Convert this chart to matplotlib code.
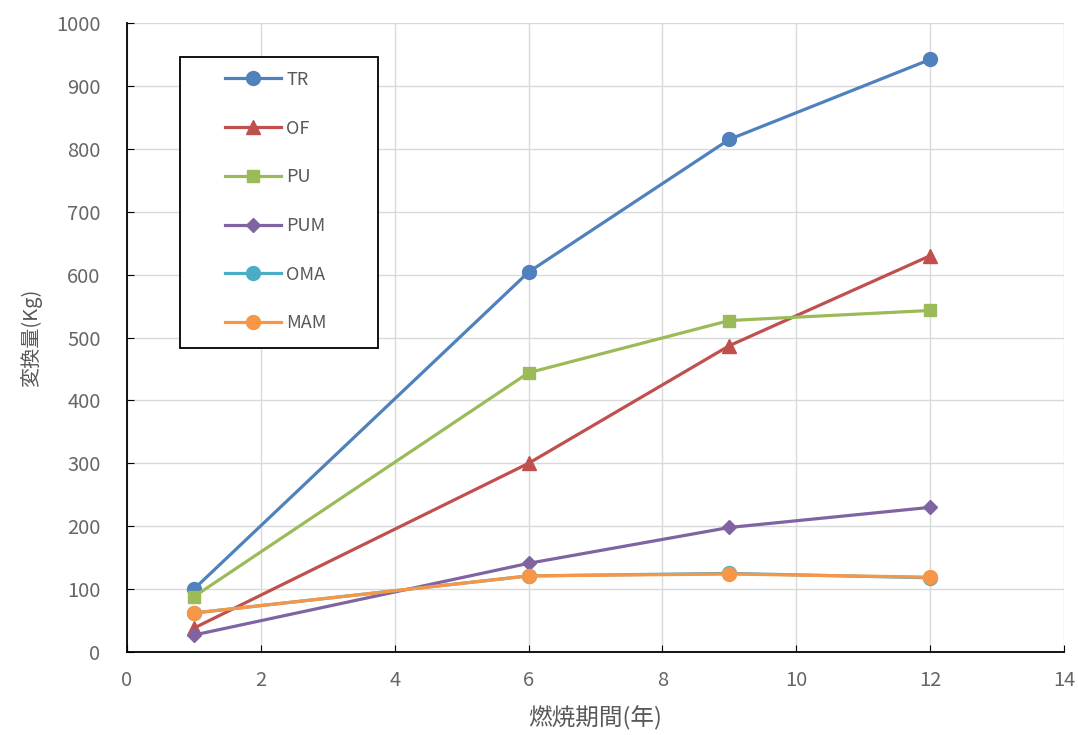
import matplotlib
matplotlib.use('Agg')
import matplotlib.pyplot as plt
from matplotlib.patches import Rectangle

plt.rcParams['font.family'] = ['Noto Sans CJK JP', 'DejaVu Sans']

years = [1, 6, 9, 12]
tr = [100, 604, 815, 942]
of = [38, 300, 487, 630]
pu = [88, 444, 527, 543]
pum = [27, 141, 198, 230]
oma = [62, 121, 125, 118]
mam = [62, 121, 124, 119]

series = [
    ('TR', tr, '#4F81BD', 'o', 10),
    ('OF', of, '#C0504D', '^', 10),
    ('PU', pu, '#9BBB59', 's', 9),
    ('PUM', pum, '#8064A2', 'D', 7),
    ('OMA', oma, '#4BACC6', 'o', 10),
    ('MAM', mam, '#F79646', 'o', 10),
]

fig = plt.figure(figsize=(10.78, 7.35), dpi=100)
ax = fig.add_axes([0.1178, 0.1129, 0.8692, 0.8558])

for name, vals, col, mk, ms in series:
    ax.plot(years, vals, color=col, marker=mk, markersize=ms, linewidth=2.3, label=name)

ax.set_xlim(0, 14)
ax.set_ylim(0, 1000)
ax.set_xticks(range(0, 15, 2))
ax.set_yticks(range(0, 1001, 100))
ax.grid(True, color='#D9D9D9', linewidth=1)
ax.set_axisbelow(True)
for s in ['top', 'right']:
    ax.spines[s].set_visible(False)
for s in ['left', 'bottom']:
    ax.spines[s].set_color('black')
    ax.spines[s].set_linewidth(1.3)
ax.tick_params(direction='in', length=5, labelsize=14.5, labelcolor='#666666')
ax.tick_params(axis='x', pad=13)
ax.tick_params(axis='y', pad=19)

ax.set_xlabel('燃焼期間(年)', fontsize=17, color='#595959', labelpad=11)
ax.set_ylabel('変換量(Kg)', fontsize=14.5, color='#595959', labelpad=10)

# legend frame drawn separately so its size matches the wide box
ax.add_patch(Rectangle((0.0566, 0.483), 0.2114, 0.463, transform=ax.transAxes,
                       facecolor='white', edgecolor='black', linewidth=1.3, zorder=5))
leg = ax.legend(loc='upper left', bbox_to_anchor=(0.1046, 0.924), borderaxespad=0,
                frameon=False, handlelength=3.1, labelspacing=1.7, fontsize=13,
                borderpad=0, handletextpad=0.3)
leg.set_zorder(6)
for t in leg.get_texts():
    t.set_color('#595959')

fig.savefig('out.png', dpi=100)
